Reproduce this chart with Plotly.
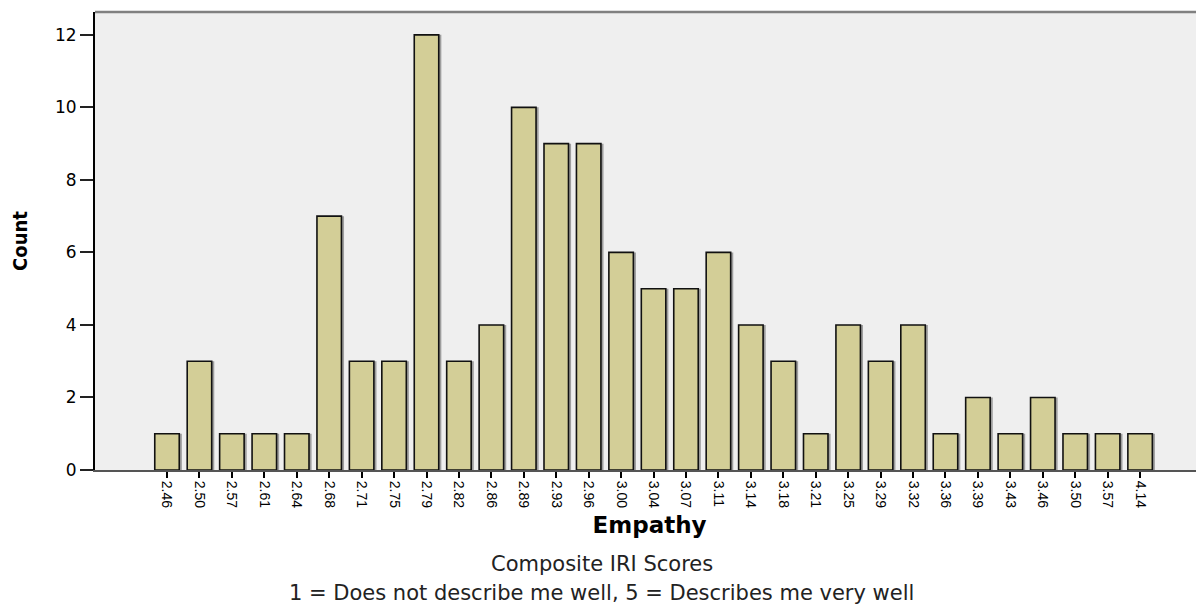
import plotly.graph_objects as go

# Data
empathy_scores = ["2.46", "2.50", "2.57", "2.61", "2.64", "2.68", "2.71", "2.75", "2.79", "2.82",
                  "2.86", "2.89", "2.93", "2.96", "3.00", "3.04", "3.07", "3.11", "3.14", "3.18",
                  "3.21", "3.25", "3.29", "3.32", "3.36", "3.39", "3.43", "3.46", "3.50", "3.57", "4.14"]
counts = [1, 3, 1, 1, 1, 7, 3, 3, 12, 3,
          4, 10, 9, 9, 6, 5, 5, 6, 4, 3,
          1, 4, 3, 4, 1, 2, 1, 2, 1, 1, 1]
y_ticks = [0, 2, 4, 6, 8, 10, 12]

x_title = "Empathy"
y_title = "Count"
footnote_1 = "Composite IRI Scores"
footnote_2 = "1 = Does not describe me well, 5 = Describes me very well"

BAR_W = 0.755

fig = go.Figure()

# soft shadow behind each bar
fig.add_trace(go.Bar(
    x=empathy_scores, y=counts,
    width=BAR_W, offset=-BAR_W / 2 + 0.08,
    marker=dict(color="rgba(60,60,60,0.45)", line=dict(width=0)),
    hoverinfo="skip", showlegend=False,
))
# main bars
fig.add_trace(go.Bar(
    x=empathy_scores, y=counts,
    width=BAR_W, offset=-BAR_W / 2,
    marker=dict(color="#d3ce97", line=dict(color="#111111", width=1.6)),
    showlegend=False,
))

fig.update_layout(
    width=1196, height=596,
    margin=dict(l=87, r=0, t=4, b=134),
    paper_bgcolor="white",
    plot_bgcolor="#efefef",
    barmode="overlay",
    font=dict(family="Liberation Sans, Arial, sans-serif", color="black"),
    xaxis=dict(
        type="category",
        range=[-2.22, 31.97],
        showgrid=False, zeroline=False,
        showline=True, linecolor="#555555", linewidth=2,
        ticks="outside", ticklen=6, tickwidth=1.5, tickcolor="black",
        tickangle=90,
        tickfont=dict(family="Liberation Sans, Arial, sans-serif", size=14, color="black"),
        title=dict(text=x_title, standoff=10,
                   font=dict(family="DejaVu Sans, sans-serif", size=23, color="black", weight="bold")),
        automargin=False,
    ),
    yaxis=dict(
        range=[0, 12.63],
        tickvals=y_ticks,
        showgrid=False, zeroline=False,
        showline=True, linecolor="black", linewidth=2,
        ticks="outside", ticklen=13, tickwidth=2, tickcolor="#222222",
        tickfont=dict(family="DejaVu Sans, sans-serif", size=17, color="black"),
        title=dict(text=y_title, standoff=22,
                   font=dict(family="DejaVu Sans Condensed, Liberation Sans, sans-serif",
                             size=20, color="black", weight="bold")),
        automargin=False,
    ),
    shapes=[dict(type="line", xref="paper", yref="paper", x0=0, x1=1, y0=1, y1=1,
                 line=dict(color="#808080", width=2.5))],
    annotations=[
        dict(text=footnote_1, xref="paper", yref="paper", x=(602 - 95) / 1109, y=-94 / 458,
             xanchor="center", yanchor="middle", showarrow=False,
             font=dict(family="DejaVu Sans, sans-serif", size=21, color="#222222")),
        dict(text=footnote_2, xref="paper", yref="paper", x=(601 - 95) / 1109, y=-123 / 458,
             xanchor="center", yanchor="middle", showarrow=False,
             font=dict(family="DejaVu Sans, sans-serif", size=21, color="#222222")),
    ],
)

fig.write_html("out.html")
